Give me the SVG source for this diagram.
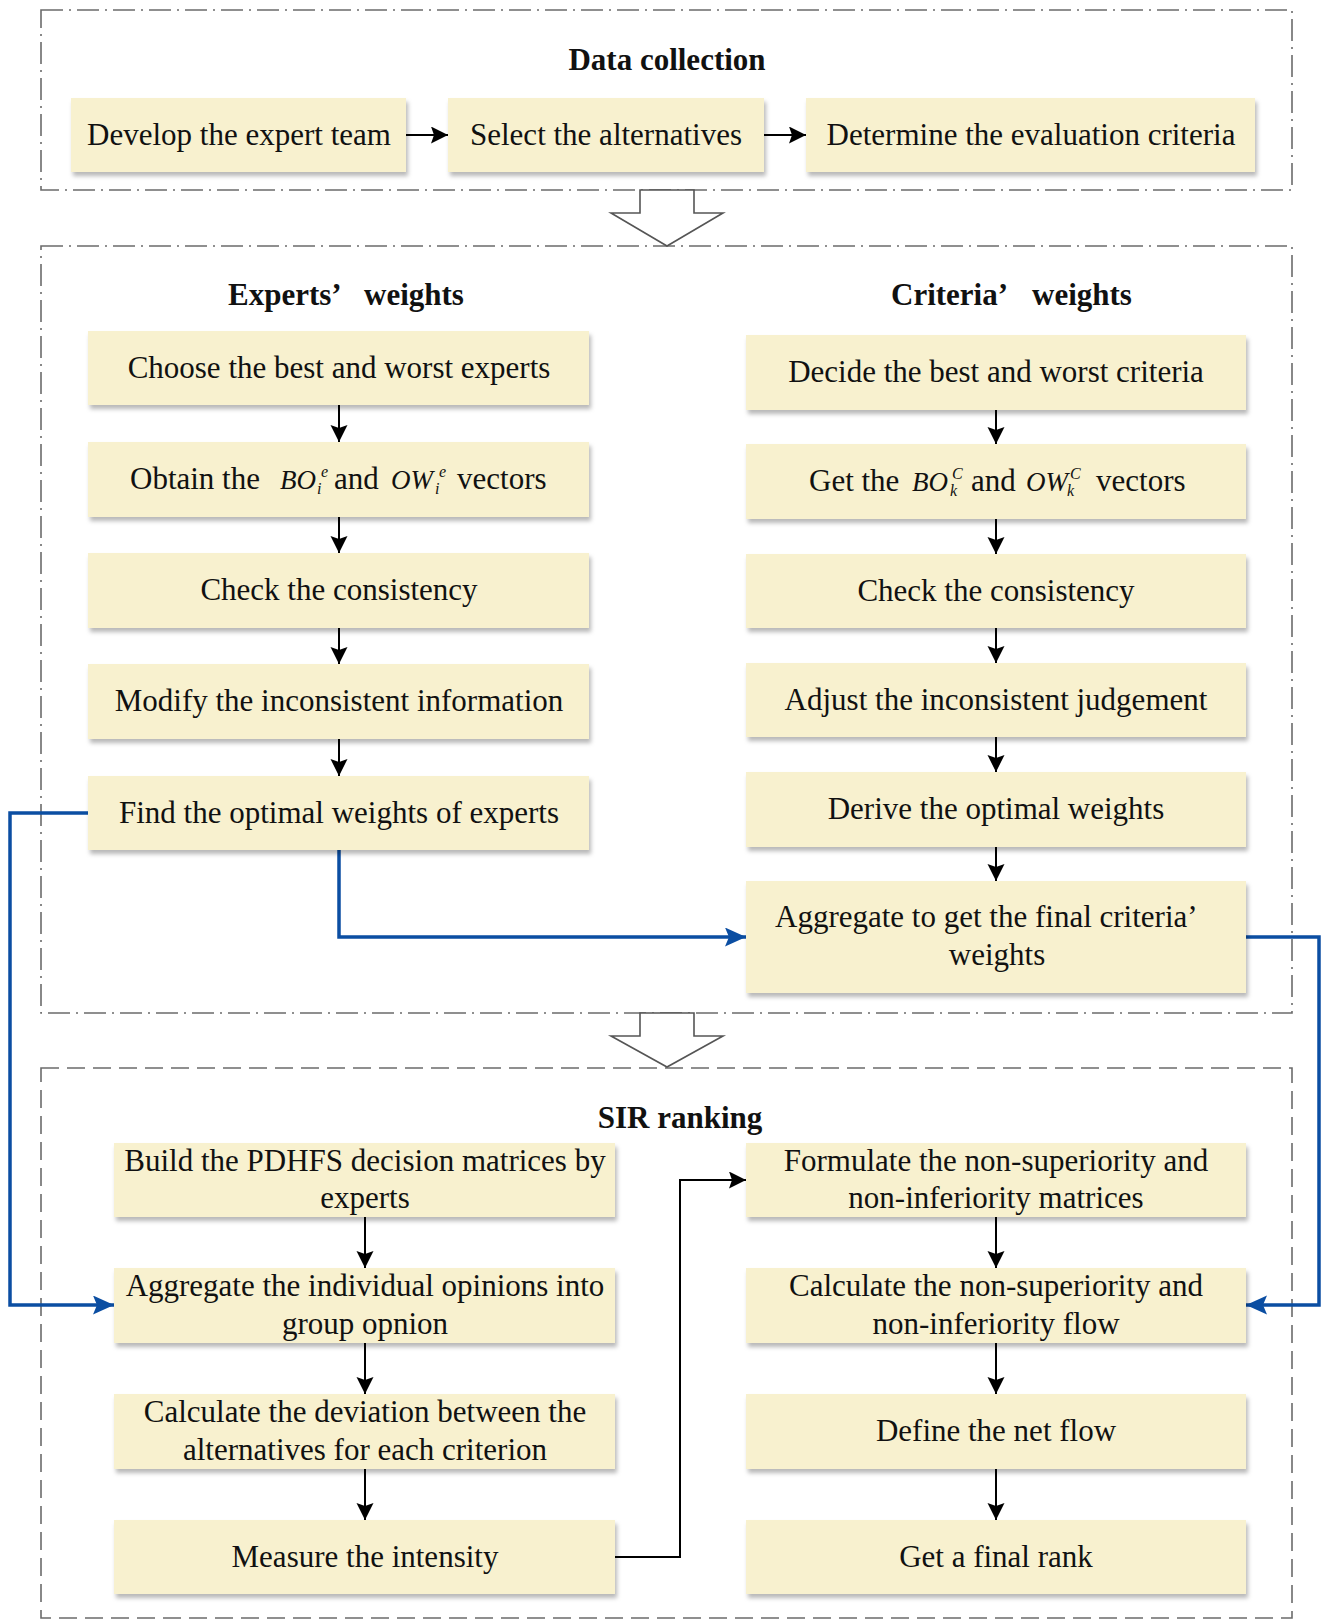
<svg xmlns="http://www.w3.org/2000/svg" width="1322" height="1620" viewBox="0 0 1322 1620">
<style>
.sec{fill:none;stroke:#6b6b6b;stroke-width:1.6}
.dd{stroke-dasharray:22 6 2 6}
.da{stroke-dasharray:18 8}
.box{fill:#F8F1CF;filter:url(#sh)}
.t{font-family:"Liberation Serif","Times New Roman",serif;font-size:31px;fill:#111;text-anchor:middle}
.ts{font-family:"Liberation Serif","Times New Roman",serif;font-size:31px;fill:#111}
.h{font-family:"Liberation Serif","Times New Roman",serif;font-size:31px;font-weight:bold;fill:#111}
.m{font-style:italic;font-size:27px}
.s{font-style:italic;font-size:16px}
.k{fill:none;stroke:#000;stroke-width:2}
.b{fill:none;stroke:#0B4EA2;stroke-width:3.5}
.hol{fill:#fff;stroke:#555;stroke-width:1.6}
</style>
<defs>
<filter id="sh" x="-5%" y="-10%" width="112%" height="130%">
<feDropShadow dx="2" dy="4" stdDeviation="2" flood-color="#000" flood-opacity="0.28"/>
</filter>
<marker id="ak" markerUnits="userSpaceOnUse" markerWidth="18" markerHeight="18" refX="17" refY="8.5" orient="auto">
<path d="M0,0 L17,8.5 L0,17 L3,8.5 Z" fill="#000"/>
</marker>
<marker id="ab" markerUnits="userSpaceOnUse" markerWidth="22" markerHeight="20" refX="21" refY="9.5" orient="auto">
<path d="M0,0 L21,9.5 L0,19 L4,9.5 Z" fill="#0B4EA2"/>
</marker>
</defs>
<rect width="1322" height="1620" fill="#fff"/>

<g id="sections">
<rect class="sec dd" x="41" y="10" width="1251" height="180"/>
<rect class="sec dd" x="41" y="246" width="1251" height="767"/>
<rect class="sec da" x="41" y="1068" width="1251" height="550"/>
<polygon class="hol" points="640,190 694,190 694,213 723,213 667,246 611,213 640,213"/>
<polygon class="hol" points="640,1013 694,1013 694,1036 723,1036 667,1067 611,1036 640,1036"/>
</g>

<g id="titles">
<text class="h" x="667" y="70" text-anchor="middle">Data collection</text>
<text class="h" y="305"><tspan x="228">Experts’</tspan><tspan x="364">weights</tspan></text>
<text class="h" y="305"><tspan x="891">Criteria’</tspan><tspan x="1032">weights</tspan></text>
<text class="h" x="680" y="1128" text-anchor="middle">SIR ranking</text>
</g>

<g id="connectors">
<line class="k" x1="406" y1="135" x2="448" y2="135" marker-end="url(#ak)"/>
<line class="k" x1="764" y1="135" x2="806" y2="135" marker-end="url(#ak)"/>
<line class="k" x1="339" y1="405" x2="339" y2="442" marker-end="url(#ak)"/>
<line class="k" x1="339" y1="517" x2="339" y2="553" marker-end="url(#ak)"/>
<line class="k" x1="339" y1="628" x2="339" y2="664" marker-end="url(#ak)"/>
<line class="k" x1="339" y1="739" x2="339" y2="776" marker-end="url(#ak)"/>
<line class="k" x1="996" y1="410" x2="996" y2="444" marker-end="url(#ak)"/>
<line class="k" x1="996" y1="519" x2="996" y2="554" marker-end="url(#ak)"/>
<line class="k" x1="996" y1="628" x2="996" y2="663" marker-end="url(#ak)"/>
<line class="k" x1="996" y1="737" x2="996" y2="772" marker-end="url(#ak)"/>
<line class="k" x1="996" y1="847" x2="996" y2="881" marker-end="url(#ak)"/>
<line class="k" x1="365" y1="1217" x2="365" y2="1268" marker-end="url(#ak)"/>
<line class="k" x1="365" y1="1343" x2="365" y2="1394" marker-end="url(#ak)"/>
<line class="k" x1="365" y1="1469" x2="365" y2="1520" marker-end="url(#ak)"/>
<line class="k" x1="996" y1="1217" x2="996" y2="1268" marker-end="url(#ak)"/>
<line class="k" x1="996" y1="1343" x2="996" y2="1394" marker-end="url(#ak)"/>
<line class="k" x1="996" y1="1469" x2="996" y2="1520" marker-end="url(#ak)"/>
<path class="k" d="M615,1557 H680 V1180 H746" marker-end="url(#ak)"/>
<path class="b" d="M339,850 V937 H746" marker-end="url(#ab)"/>
<path class="b" d="M88,813 H10 V1305 H114" marker-end="url(#ab)"/>
<path class="b" d="M1246,937 H1319 V1305 H1246" marker-end="url(#ab)"/>
</g>

<g id="n-develop"><rect class="box" x="71" y="98" width="335" height="74"/><text class="t" x="239" y="145">Develop the expert team</text></g>
<g id="n-select"><rect class="box" x="448" y="98" width="316" height="74"/><text class="t" x="606" y="145">Select the alternatives</text></g>
<g id="n-determine"><rect class="box" x="806" y="98" width="449" height="74"/><text class="t" x="1031" y="145">Determine the evaluation criteria</text></g>

<g id="n-l1"><rect class="box" x="88" y="331" width="501" height="74"/><text class="t" x="339" y="378">Choose the best and worst experts</text></g>
<g id="n-l2"><rect class="box" x="88" y="442" width="501" height="75"/>
<text class="ts" y="489"><tspan x="130">Obtain the</tspan><tspan class="m" x="280">BO</tspan><tspan class="s" x="321" dy="-12">e</tspan><tspan class="s" x="317" dy="17">i</tspan><tspan x="334" dy="-5">and</tspan><tspan class="m" x="391">OW</tspan><tspan class="s" x="439" dy="-12">e</tspan><tspan class="s" x="435" dy="17">i</tspan><tspan x="457" dy="-5">vectors</tspan></text></g>
<g id="n-l3"><rect class="box" x="88" y="553" width="501" height="75"/><text class="t" x="339" y="600">Check the consistency</text></g>
<g id="n-l4"><rect class="box" x="88" y="664" width="501" height="75"/><text class="t" x="339" y="711">Modify the inconsistent information</text></g>
<g id="n-l5"><rect class="box" x="88" y="776" width="501" height="74"/><text class="t" x="339" y="823">Find the optimal weights of experts</text></g>

<g id="n-r1"><rect class="box" x="746" y="335" width="500" height="75"/><text class="t" x="996" y="382">Decide the best and worst criteria</text></g>
<g id="n-r2"><rect class="box" x="746" y="444" width="500" height="75"/>
<text class="ts" y="491"><tspan x="809">Get the</tspan><tspan class="m" x="912">BO</tspan><tspan class="s" x="952" dy="-12">C</tspan><tspan class="s" x="950" dy="17">k</tspan><tspan x="971" dy="-5">and</tspan><tspan class="m" x="1026">OW</tspan><tspan class="s" x="1070" dy="-12">C</tspan><tspan class="s" x="1067" dy="17">k</tspan><tspan x="1096" dy="-5">vectors</tspan></text></g>
<g id="n-r3"><rect class="box" x="746" y="554" width="500" height="74"/><text class="t" x="996" y="601">Check the consistency</text></g>
<g id="n-r4"><rect class="box" x="746" y="663" width="500" height="74"/><text class="t" x="996" y="710">Adjust the inconsistent judgement</text></g>
<g id="n-r5"><rect class="box" x="746" y="772" width="500" height="75"/><text class="t" x="996" y="819">Derive the optimal weights</text></g>
<g id="n-r6"><rect class="box" x="746" y="881" width="500" height="112"/><text class="ts" x="775" y="927">Aggregate to get the final criteria’</text><text class="t" x="997" y="965">weights</text></g>

<g id="n-s1"><rect class="box" x="114" y="1143" width="501" height="74"/><text class="t" x="365" y="1171">Build the PDHFS decision matrices by</text><text class="t" x="365" y="1208">experts</text></g>
<g id="n-s2"><rect class="box" x="114" y="1268" width="501" height="75"/><text class="t" x="365" y="1296">Aggregate the individual opinions into</text><text class="t" x="365" y="1334">group opnion</text></g>
<g id="n-s3"><rect class="box" x="114" y="1394" width="501" height="75"/><text class="t" x="365" y="1422">Calculate the deviation between the</text><text class="t" x="365" y="1460">alternatives for each criterion</text></g>
<g id="n-s4"><rect class="box" x="114" y="1520" width="501" height="74"/><text class="t" x="365" y="1567">Measure the intensity</text></g>

<g id="n-t1"><rect class="box" x="746" y="1143" width="500" height="74"/><text class="t" x="996" y="1171">Formulate the non-superiority and</text><text class="t" x="996" y="1208">non-inferiority matrices</text></g>
<g id="n-t2"><rect class="box" x="746" y="1268" width="500" height="75"/><text class="t" x="996" y="1296">Calculate the non-superiority and</text><text class="t" x="996" y="1334">non-inferiority flow</text></g>
<g id="n-t3"><rect class="box" x="746" y="1394" width="500" height="75"/><text class="t" x="996" y="1441">Define the net flow</text></g>
<g id="n-t4"><rect class="box" x="746" y="1520" width="500" height="74"/><text class="t" x="996" y="1567">Get a final rank</text></g>
</svg>
